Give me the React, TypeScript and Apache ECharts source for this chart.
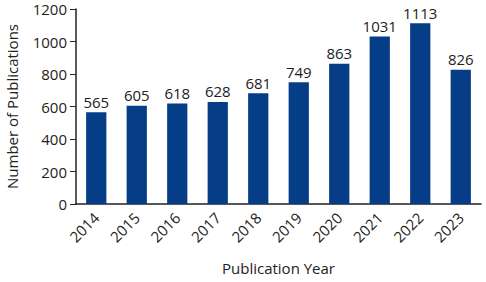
import React, { useEffect, useRef } from "react";
import * as echarts from "echarts";

const years = ["2014", "2015", "2016", "2017", "2018", "2019", "2020", "2021", "2022", "2023"];
const publications = [565, 605, 618, 628, 681, 749, 863, 1031, 1113, 826];
const yTicks = { min: 0, max: 1200, interval: 200 };

const FONT = "'Open Sans', 'Noto Sans', sans-serif";

export default function App() {
  const ref = useRef<HTMLDivElement>(null);
  useEffect(() => {
    const chart = echarts.init(ref.current!, null, { renderer: "svg" });
    chart.setOption({
      animation: false,
      backgroundColor: "#ffffff",
      grid: { left: 76, right: 5, top: 9, bottom: 78, outerBoundsMode: "none", containLabel: false },
      xAxis: {
        type: "category",
        data: years,
        name: "Publication Year",
        nameLocation: "middle",
        nameGap: 56,
        nameTextStyle: { fontFamily: FONT, fontSize: 15, color: "#222" },
        axisLine: { lineStyle: { color: "#222", width: 1.5 } },
        axisTick: { alignWithLabel: true, length: 5, lineStyle: { color: "#222" } },
        axisLabel: { rotate: 45, fontFamily: FONT, fontSize: 15, color: "#222", margin: 11 },
      },
      yAxis: {
        type: "value",
        min: yTicks.min,
        max: yTicks.max,
        interval: yTicks.interval,
        name: "Number of Publications",
        nameLocation: "middle",
        nameGap: 57,
        nameTextStyle: { fontFamily: FONT, fontSize: 15, color: "#222" },
        axisLine: { show: true, lineStyle: { color: "#222", width: 1.5 } },
        axisTick: { show: true, length: 6, lineStyle: { color: "#222" } },
        axisLabel: {
          fontFamily: FONT,
          fontSize: 15,
          color: "#222",
          margin: 9,
          formatter: (v: number) => String(v),
        },
        splitLine: { show: false },
      },
      series: [
        {
          type: "bar",
          data: publications,
          barWidth: "50%",
          itemStyle: { color: "#053d87" },
          label: {
            show: true,
            position: "top",
            distance: 3,
            fontFamily: FONT,
            fontSize: 15,
            color: "#222",
          },
        },
      ],
    });
    return () => chart.dispose();
  }, []);
  return <div ref={ref} style={{ width: 486, height: 282, position: "absolute", left: 0, top: 0 }} />;
}
